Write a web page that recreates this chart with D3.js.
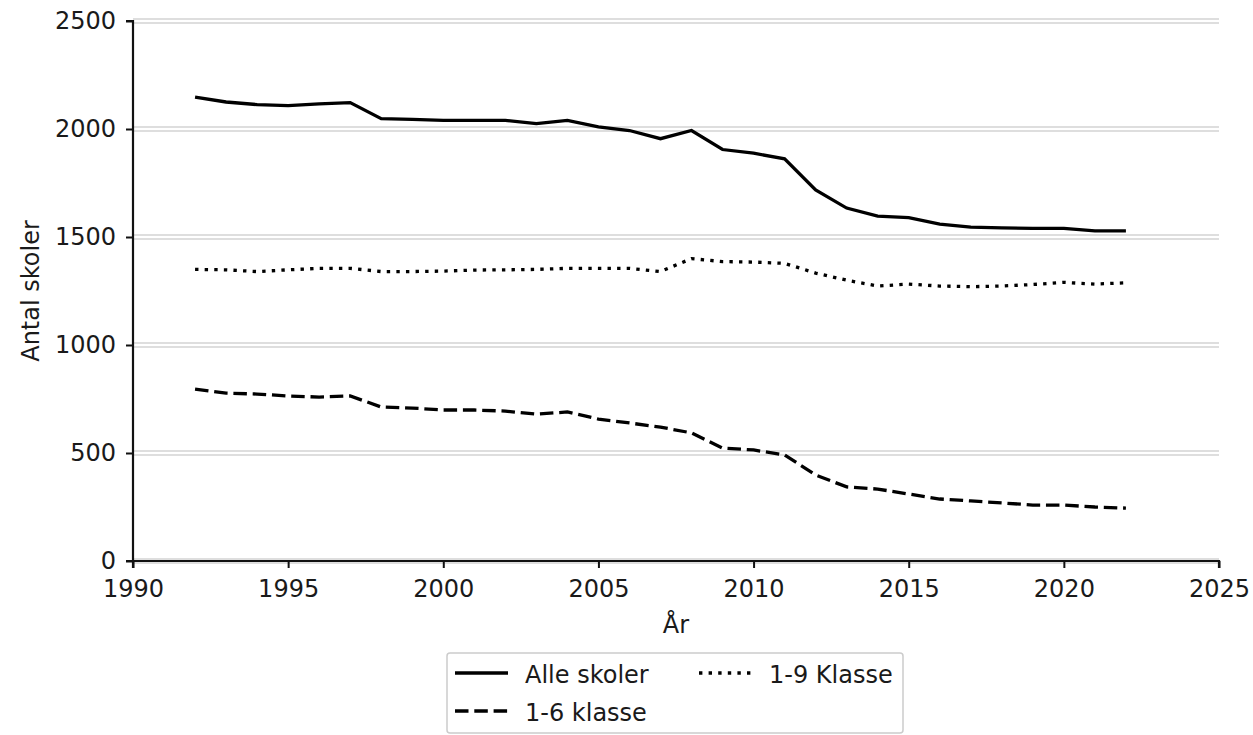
<!DOCTYPE html>
<html>
<head>
<meta charset="utf-8">
<script src="https://cdn.jsdelivr.net/npm/d3@7"></script>
<style>
    body { margin: 0; background: #fff; }
    text { font-family: "DejaVu Sans", sans-serif; fill: #1a1a1a; }
</style>
</head>
<body>
<svg id="base" width="1253" height="735"></svg>
<script>
// data
const years = [1992, 1993, 1994, 1995, 1996, 1997, 1998, 1999, 2000, 2001, 2002,
    2003, 2004, 2005, 2006, 2007, 2008, 2009, 2010, 2011, 2012, 2013, 2014, 2015,
    2016, 2017, 2018, 2019, 2020, 2021, 2022];
const alleSkoler = [2148, 2125, 2113, 2108, 2116, 2122, 2048, 2045, 2040, 2040, 2040,
    2025, 2040, 2010, 1993, 1955, 1993, 1905, 1888, 1862, 1718, 1634, 1597, 1590,
    1560, 1546, 1542, 1540, 1540, 1528, 1528];
const klasse19 = [1350, 1348, 1340, 1348, 1355, 1355, 1340, 1340, 1342, 1347, 1348,
    1350, 1355, 1355, 1355, 1340, 1400, 1386, 1384, 1378, 1333, 1300, 1273, 1282,
    1273, 1270, 1273, 1280, 1290, 1282, 1288];
const klasse16 = [796, 777, 773, 764, 759, 764, 713, 708, 699, 699, 694, 680, 690,
    657, 639, 620, 593, 523, 514, 491, 398, 343, 333, 310, 287, 278, 269, 259, 259,
    250, 245];
const seriesNames = ["Alle skoler", "1-9 Klasse", "1-6 klasse"];
const xTicks = [1990, 1995, 2000, 2005, 2010, 2015, 2020, 2025];
const yTicks = [0, 500, 1000, 1500, 2000, 2500];

(function () {
    const svg = d3.select("#base");
    const mLeft = 133, mRight = 1219, mTop = 21, mBottom = 561;
    const fs = 24;

    const x = d3.scaleLinear().domain([1990, 2025]).range([mLeft, mRight]);
    const y = d3.scaleLinear().domain([0, 2500]).range([mBottom, mTop]);

    // double grey gridlines
    const grid = svg.append("g");
    yTicks.forEach((t) => {
        [-2, 2].forEach((off) => {
            grid.append("line")
                .attr("x1", mLeft).attr("x2", mRight)
                .attr("y1", y(t) + off).attr("y2", y(t) + off)
                .attr("stroke", "#bdbdbd").attr("stroke-width", 1.2);
        });
    });

    // axes
    const xAxis = svg.append("g")
        .attr("transform", `translate(0,${mBottom})`)
        .call(d3.axisBottom(x).tickValues(xTicks).tickFormat(d3.format("d")).tickSize(7).tickPadding(12));
    const yAxis = svg.append("g")
        .attr("transform", `translate(${mLeft},0)`)
        .call(d3.axisLeft(y).tickValues(yTicks).tickFormat(d3.format("d")).tickSize(7).tickPadding(10));

    [xAxis, yAxis].forEach((a) => {
        a.select(".domain").attr("stroke", "#111").attr("stroke-width", 2.2);
        a.selectAll(".tick line").attr("stroke", "#111").attr("stroke-width", 2);
        a.selectAll(".tick text").attr("font-size", fs).attr("fill", "#1a1a1a");
    });
    xAxis.select(".domain").attr("d", `M${mLeft},7V0H${mRight}V7`);
    yAxis.select(".domain").attr("d", `M-7,${mTop}H0V${mBottom}H-7`);

    svg.append("text")
        .attr("x", (mLeft + mRight) / 2).attr("y", 633)
        .attr("text-anchor", "middle").attr("font-size", fs)
        .text("År");
    svg.append("text")
        .attr("transform", `translate(39,${(mTop + mBottom) / 2}) rotate(-90)`)
        .attr("text-anchor", "middle").attr("font-size", fs)
        .text("Antal skoler");

    // lines
    const styles = [
        { values: alleSkoler, dash: null },
        { values: klasse19, dash: "3.4,6.2" },
        { values: klasse16, dash: "13.5,5.8" },
    ];
    const line = d3.line().x((d) => x(d[0])).y((d) => y(d[1]));

    styles.forEach((s) => {
        svg.append("path")
            .datum(years.map((yr, i) => [yr, s.values[i]]))
            .attr("d", line)
            .attr("fill", "none")
            .attr("stroke", "#000")
            .attr("stroke-width", 3.3)
            .attr("stroke-dasharray", s.dash);
    });

    // legend
    const legend = svg.append("g").attr("id", "legend");
    legend.append("rect")
        .attr("x", 447).attr("y", 653).attr("width", 456).attr("height", 80)
        .attr("rx", 3)
        .attr("fill", "#fff").attr("stroke", "#cccccc").attr("stroke-width", 1.5);

    const legendPos = [
        { lx: 455, ty: 673 },
        { lx: 699, ty: 673 },
        { lx: 455, ty: 711 },
    ];
    legendPos.forEach((p, i) => {
        legend.append("line")
            .attr("x1", p.lx).attr("x2", p.lx + 53)
            .attr("y1", p.ty).attr("y2", p.ty)
            .attr("stroke", "#000").attr("stroke-width", 3.3)
            .attr("stroke-dasharray", styles[i].dash);
        legend.append("text")
            .attr("x", p.lx + 70).attr("y", p.ty + 10)
            .attr("font-size", fs)
            .text(seriesNames[i]);
    });
})();
</script>
</body>
</html>
